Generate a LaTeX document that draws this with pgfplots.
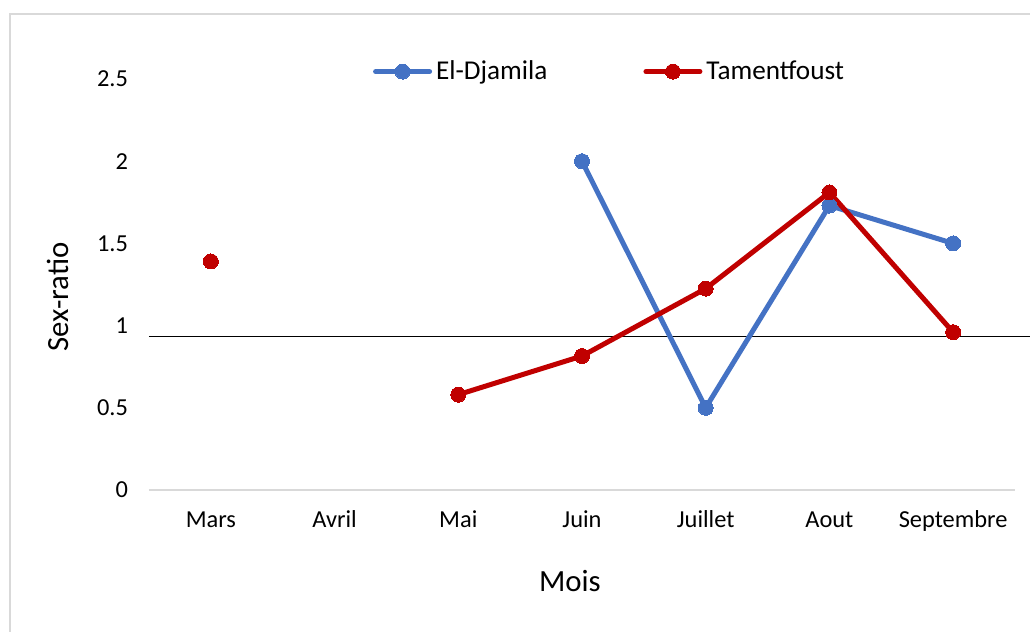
\documentclass[border=0pt]{standalone}
\usepackage{pgfplots}
\pgfplotsset{compat=1.18}
\usepackage{fontspec}
\setmainfont{Carlito}
\definecolor{cblue}{HTML}{4472C4}
\definecolor{cred}{HTML}{C00000}
\definecolor{cgray}{HTML}{D9D9D9}
\begin{document}
\begin{tikzpicture}
\useasboundingbox (0pt,0pt) rectangle (515pt,316pt);
\fill[white] (0pt,0pt) rectangle (515pt,316pt);
\draw[cgray, line width=0.8pt] (5pt,0pt) -- (5pt,309pt) -- (515pt,309pt);
\begin{axis}[
  at={(74.5pt,71pt)}, anchor=south west,
  scale only axis, width=433pt, height=205.5pt,
  xmin=-0.5, xmax=6.5, ymin=0, ymax=2.5,
  xtick={0,1,2,3,4,5,6},
  xticklabels={Mars,Avril,Mai,Juin,Juillet,Aout,Septembre},
  ytick={0,0.5,1,1.5,2,2.5},
  yticklabels={0,0.5,1,1.5,2,2.5},
  major tick length=0pt,
  axis line style={draw=none},
  tick label style={font=\fontsize{12.2}{14}\selectfont, black},
  xticklabel style={anchor=base, yshift=-19pt},
  yticklabel style={anchor=east, xshift=-7pt},
  /pgf/number format/assume math mode=true,
  xlabel={Mois}, ylabel={Sex-ratio},
  label style={font=\fontsize{15.4}{17}\selectfont},
  xlabel style={at={(axis description cs:0.486,-0.248)}, anchor=base},
  ylabel style={at={(axis description cs:-0.105,0.47)}, anchor=center},
  clip=false,
  unbounded coords=jump,
  legend columns=2,
  legend style={draw=none, fill=none, at={(axis description cs:0.533,1.018)}, anchor=center,
    font=\fontsize{13.6}{15}\selectfont,
    /tikz/every even column/.append style={column sep=46pt}},
  legend image code/.code={\draw[mark repeat=2,mark phase=2] plot coordinates {(0pt,0pt) (13.5pt,0pt) (27pt,0pt)};},
]
\draw[cgray, line width=0.8pt] (rel axis cs:0,0) -- (rel axis cs:1,0);
\addplot[black, line width=0.6pt, forget plot] coordinates {(-0.5,0.935) (6.65,0.935)};
\addplot[cblue, line width=2.5pt, line join=round, line cap=round, mark=*, mark size=3.75pt, mark options={solid, fill=cblue, draw=cblue, line width=0pt}]
  coordinates {(3,2.0) (4,0.5) (5,1.73) (6,1.5)};
\addlegendentry{El-Djamila}
\addplot[cred, line width=2.5pt, line join=round, line cap=round, mark=*, mark size=3.75pt, mark options={solid, fill=cred, draw=cred, line width=0pt}]
  coordinates {(0,1.39) (1,nan) (2,0.58) (3,0.815) (4,1.225) (5,1.81) (6,0.96)};
\addlegendentry{Tamentfoust}
\end{axis}
\end{tikzpicture}
\end{document}
